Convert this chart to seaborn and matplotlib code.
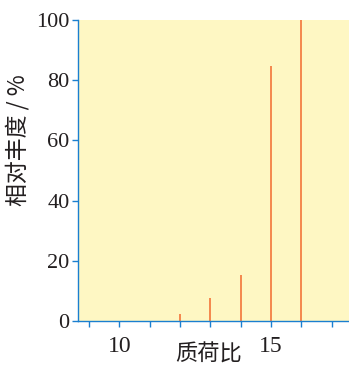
import matplotlib
matplotlib.use("Agg")
import matplotlib.pyplot as plt
import pandas as pd
import seaborn as sns

# mass spectrum data
mass_charge = [12, 13, 14, 15, 16]
rel_abundance = [2.3, 7.5, 15.3, 84.7, 100]
x_major = [10, 15]
x_minor = [9, 10, 11, 12, 13, 14, 15, 16, 17]
y_ticks = [0, 20, 40, 60, 80, 100]

AXIS_BLUE = '#1a7fd0'
BAR_COLOR = '#f26a2e'
BG_YELLOW = '#fef7c3'
TEXT = '#231f20'

sns.set_style('ticks')
plt.rcParams['font.family'] = ['Liberation Serif', 'Noto Sans CJK SC', 'DejaVu Sans']

df = pd.DataFrame({'mz': mass_charge, 'abundance': rel_abundance})

fig = plt.figure(figsize=(3.49, 3.66), dpi=100)
ax = fig.add_axes([0.2235, 0.123, 0.7765, 0.822])
ax.set_facecolor(BG_YELLOW)

# thin bars: a near-zero width with an edge of the same colour gives even lines
sns.barplot(data=df, x='mz', y='abundance', native_scale=True, width=0.005,
            color=BAR_COLOR, saturation=1, edgecolor=BAR_COLOR, linewidth=1.1,
            ax=ax)

ax.set_xlim(8.64, 17.57)
ax.set_ylim(0, 100)
ax.set_xticks(x_major)
ax.set_xticklabels([str(v) for v in x_major])
ax.set_xticks(x_minor, minor=True)
ax.set_yticks(y_ticks)
ax.set_yticklabels([str(v) for v in y_ticks])

for side in ['top', 'right']:
    ax.spines[side].set_visible(False)
for side in ['left', 'bottom']:
    ax.spines[side].set_color(AXIS_BLUE)
    ax.spines[side].set_linewidth(1.0)

ax.tick_params(axis='both', which='both', color=AXIS_BLUE, direction='out',
               length=4, width=1.0, labelcolor=TEXT, pad=2)
ax.tick_params(axis='y', labelsize=16)
ax.tick_params(axis='x', which='major', labelsize=17, pad=7)

ax.set_xlabel('质荷比', family='Noto Sans CJK SC', fontsize=16, color=TEXT)
ax.xaxis.set_label_coords(0.48, -0.073)
ax.xaxis.label.set_verticalalignment('top')
ax.set_ylabel('相对丰度 / %', family=['Noto Sans CJK SC', 'DejaVu Sans'],
              fontsize=16.5, color=TEXT)
ax.yaxis.set_label_coords(-0.18, 0.6)

fig.savefig('out.png', dpi=100)
